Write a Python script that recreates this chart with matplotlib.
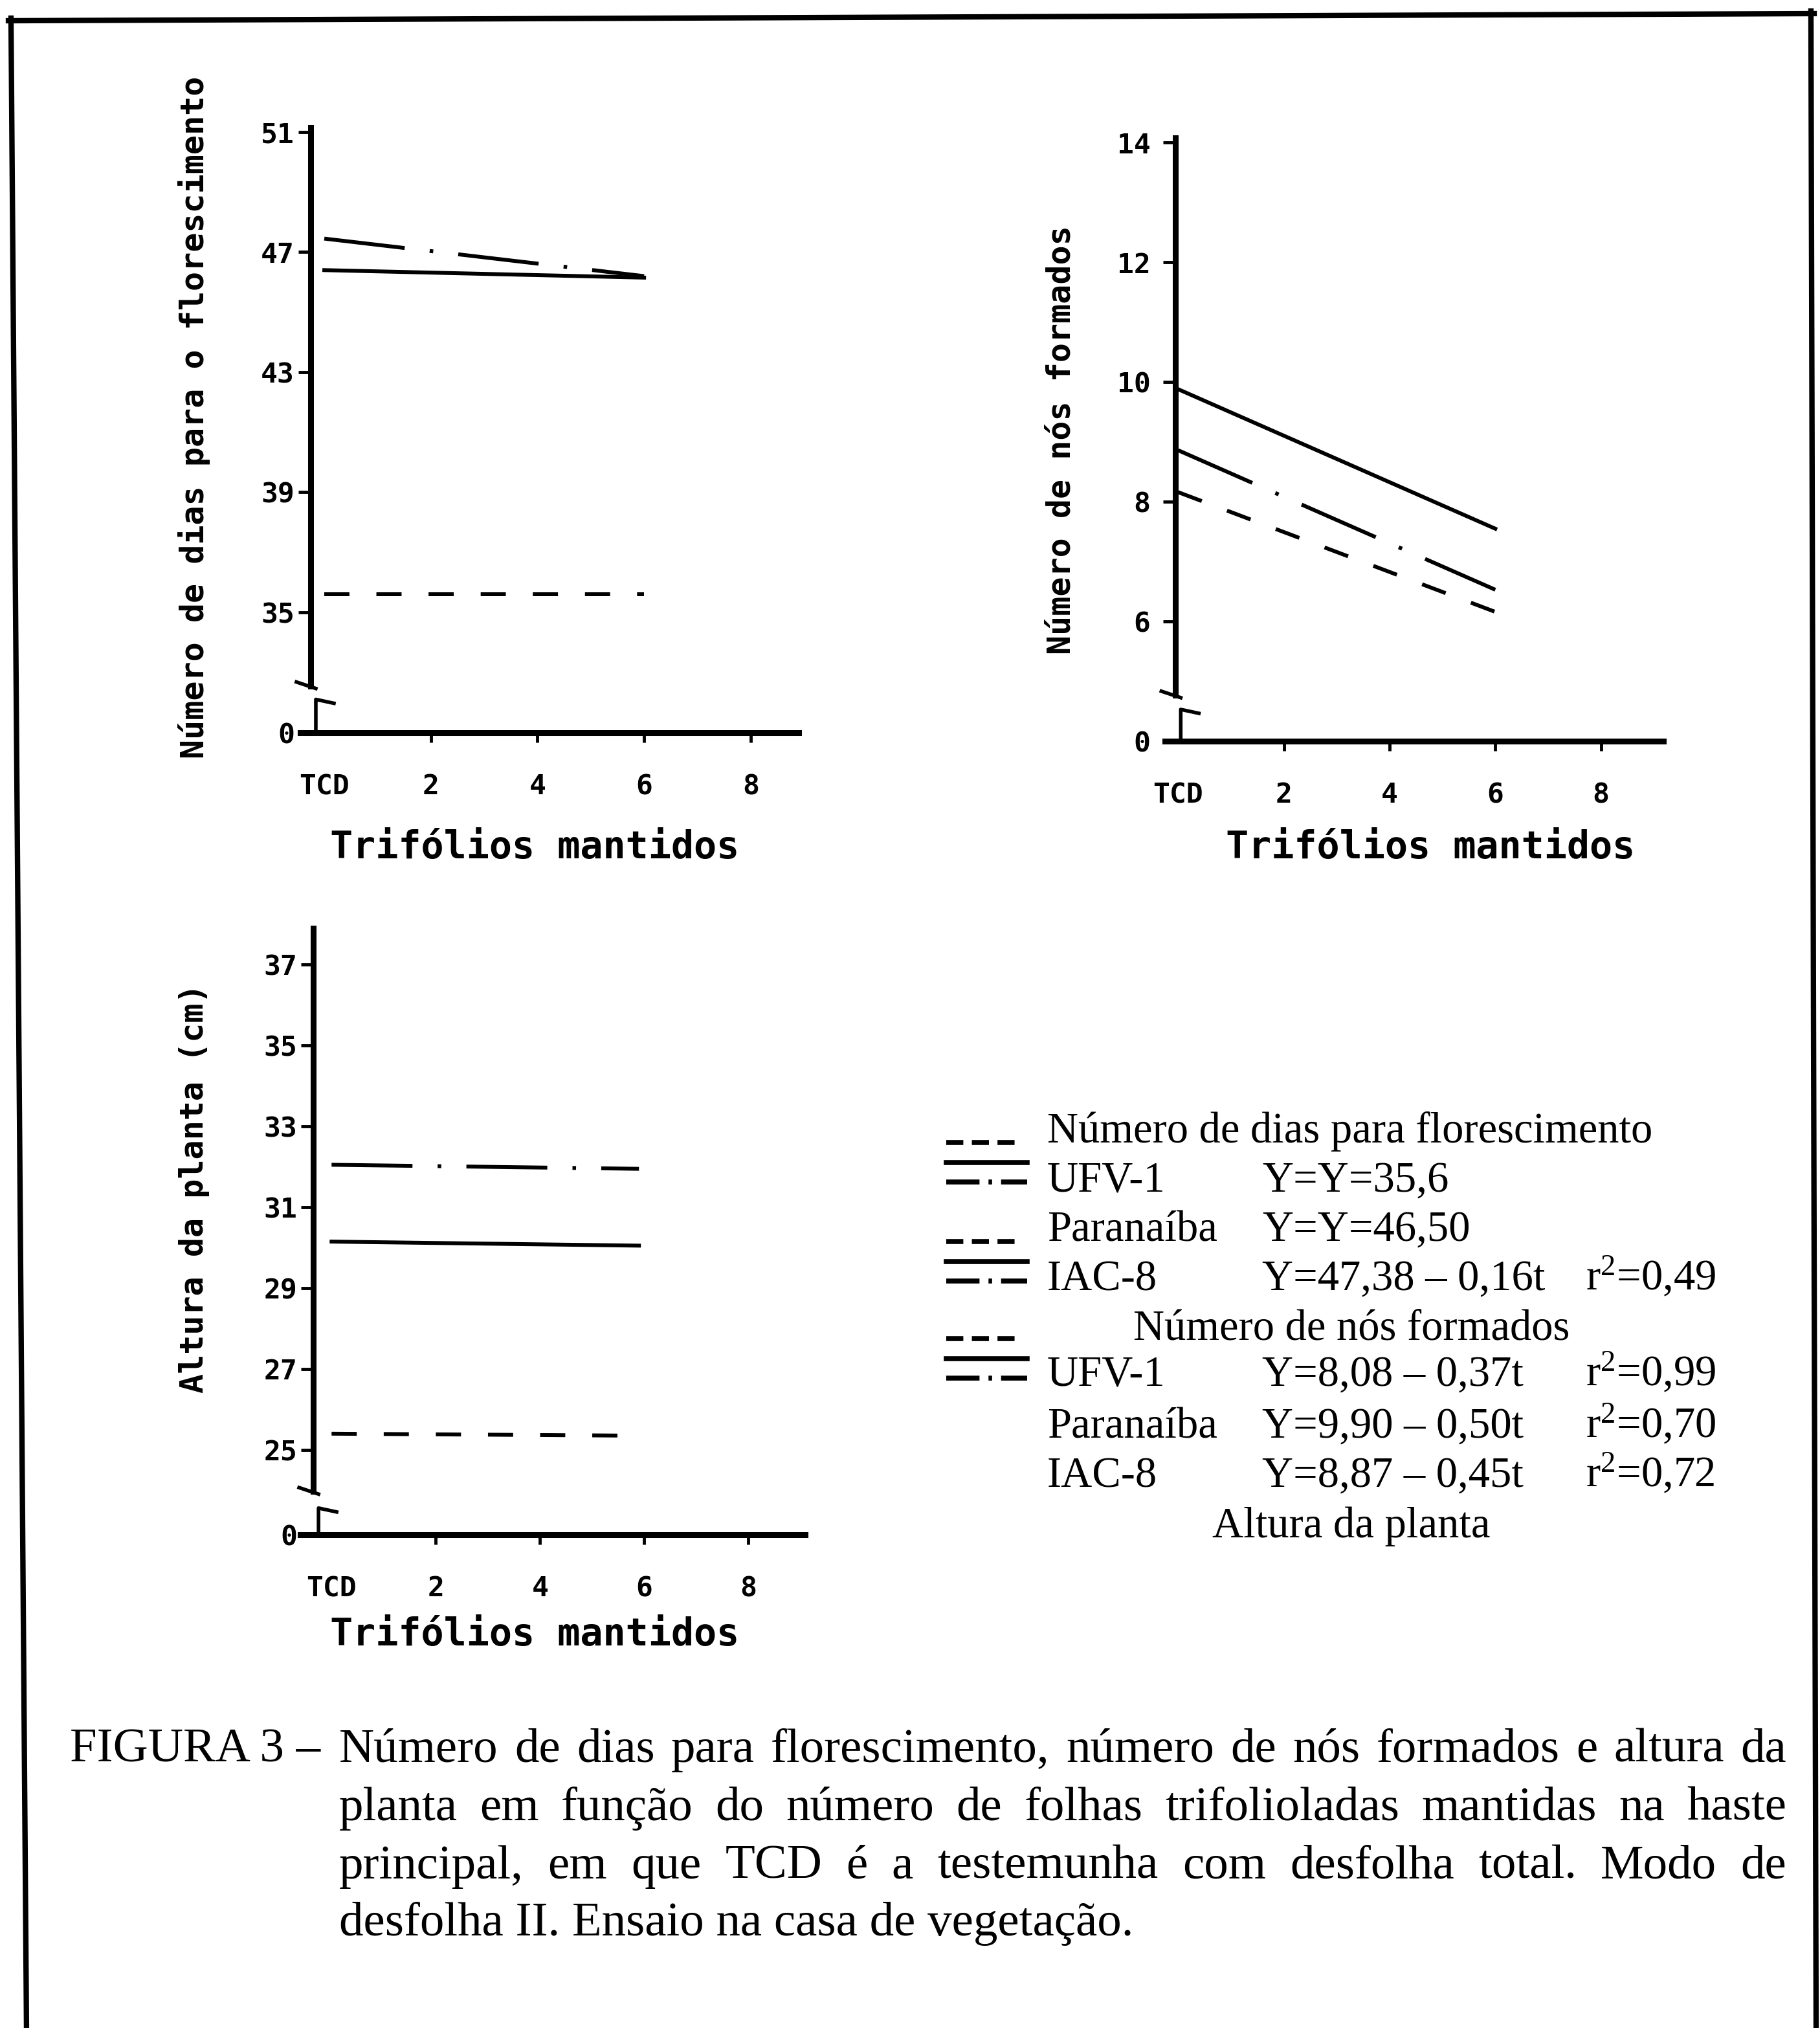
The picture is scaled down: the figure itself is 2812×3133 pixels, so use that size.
import matplotlib
matplotlib.use("Agg")
import matplotlib.pyplot as plt

W, H = 2812, 3133

plt.rcParams['font.family'] = 'DejaVu Sans Mono'
plt.rcParams['font.weight'] = 'bold'
plt.rcParams['axes.labelweight'] = 'bold'
plt.rcParams['lines.scale_dashes'] = False
plt.rcParams['mathtext.fontset'] = 'custom'
plt.rcParams['mathtext.rm'] = 'Liberation Serif'
plt.rcParams['mathtext.default'] = 'regular'

# eixo x: TCD = testemunha com desfolha total, depois trifolios mantidos
x_ticks = [0, 2, 4, 6, 8]
x_labels = ['TCD', '2', '4', '6', '8']
x_fit = [0, 6]
x_fit_alt = [0, 5.9]

# numero de dias para florescimento
dias_ufv1 = [35.6, 35.6]
dias_paranaiba = [46.4, 46.15]
dias_iac8 = [47.45, 46.2]
dias_yticks = [35, 39, 43, 47, 51]

# numero de nos formados
nos_ufv1 = [8.16, 6.16]
nos_paranaiba = [9.88, 7.55]
nos_iac8 = [8.86, 6.53]
nos_yticks = [6, 8, 10, 12, 14]

# altura da planta (cm)
alt_ufv1 = [25.4, 25.35]
alt_paranaiba = [30.15, 30.05]
alt_iac8 = [32.05, 31.95]
alt_yticks = [25, 27, 29, 31, 33, 35, 37]

LW = 4.3
DASHED = (0, (28, 30))
DASHDOT = (0, (90, 28, 4, 28))
SERIF = dict(family='Liberation Serif', weight='normal', color='black')

fig = plt.figure(figsize=(W / 100, H / 100), dpi=100)
fig.patch.set_facecolor('white')

# camada de fundo em pixels (moldura, legenda, legenda da figura)
lax = fig.add_axes([0, 0, 1, 1], zorder=-1)
lax.set_xlim(0, W)
lax.set_ylim(H, 0)
lax.axis('off')


def draw_break(ax, x, y_hi, y_lo, y_bot):
    to_px = ax.transData.transform
    to_data = ax.transData.inverted().transform

    def at(y, dx, dy):
        px, py = to_px((x, y))
        return to_data((px + dx, py + dy))

    a, b = at(y_hi, -22, 6), at(y_hi, 8, -4)
    ax.plot([a[0], b[0]], [a[1], b[1]], color='black', lw=4, clip_on=False)
    c, d, e = at(y_bot, 8, 0), at(y_lo, 8, 0), at(y_lo, 36, -6)
    ax.plot([c[0], d[0], e[0]], [c[1], d[1], e[1]], color='black', lw=4, clip_on=False)


def panel(rect, xlim, ylim, spine_x, yticks, brk, ylabel, ylab_xy, xlab_xy, ypad=4):
    l, r, t, b = rect
    ax = fig.add_axes([l / W, 1 - b / H, (r - l) / W, (b - t) / H])
    ax.set_facecolor('none')
    ax.set_xlim(xlim)
    ax.set_ylim(ylim)
    for s in ('top', 'right'):
        ax.spines[s].set_visible(False)
    for s in ('left', 'bottom'):
        ax.spines[s].set_linewidth(6.5)
    ax.spines['left'].set_position(('data', spine_x))
    ax.spines['left'].set_bounds(brk[0], ylim[1])
    ax.set_xticks(x_ticks, x_labels)
    ax.set_yticks([ylim[0]] + yticks, ['0'] + [str(v) for v in yticks])
    ax.tick_params(axis='x', length=11, width=3.5, pad=34, labelsize=31)
    ax.tick_params(axis='y', length=14, width=3.5, pad=ypad, labelsize=31)
    ax.xaxis.get_major_ticks()[0].tick1line.set_visible(False)
    ax.set_xlabel('Trifólios mantidos', fontsize=42, va='center')
    ax.xaxis.set_label_coords(*xlab_xy)
    ax.set_ylabel(ylabel, fontsize=36, va='center')
    ax.yaxis.set_label_coords(*ylab_xy)
    draw_break(ax, spine_x, brk[0], brk[1], ylim[0])
    return ax


ax1 = panel((464, 1234, 197, 1131.5), (-0.45, 8.9), (31, 51.15), -0.256, dias_yticks,
            (32.55, 32.1), 'Número de dias para o florescimento', (-0.213, 0.521), (0.470, -0.191))
ax2 = panel((1800, 2570, 213, 1145), (-0.25, 9.18), (4, 14.08), -0.05, nos_yticks,
            (4.77, 4.53), 'Número de nós formados', (-0.208, 0.499), (0.532, -0.177), ypad=14)
ax3 = panel((464, 1244, 1434, 2371), (-0.6, 9.09), (22.9, 37.9), -0.35, alt_yticks,
            (23.97, 23.56), 'Altura da planta (cm)', (-0.21, 0.571), (0.464, -0.165))

for ax, xs, ufv, par, iac in [(ax1, x_fit, dias_ufv1, dias_paranaiba, dias_iac8),
                              (ax2, x_fit, nos_ufv1, nos_paranaiba, nos_iac8),
                              (ax3, x_fit_alt, alt_ufv1, alt_paranaiba, alt_iac8)]:
    ax.plot(xs, ufv, color='black', lw=LW, ls=DASHED)
    ax.plot(xs, par, color='black', lw=LW, ls='-')
    ax.plot(xs, iac, color='black', lw=LW, ls=DASHDOT)

# moldura
for xs, ys in [([13, 2803], [32, 21]), ([17, 41], [28, 3140]), ([2798, 2806], [17, 3140])]:
    lax.plot(xs, ys, color='black', lw=6, solid_capstyle='projecting', clip_on=False)

# tamanhos de fonte a partir das larguras medidas
renderer = fig.canvas.get_renderer()


def width_of(s, size):
    t = lax.text(0, 0, s, fontsize=size, **SERIF)
    w = t.get_window_extent(renderer).width
    t.remove()
    return w


leg_size = 40 * 934 / width_of('Número de dias para florescimento', 40)
cap_size = 40 * 1226 / width_of('desfolha II. Ensaio na casa de vegetação.', 40)

# simbolos da legenda
for y0 in [1765, 1918, 2068]:
    lax.plot([1462, 1574], [y0, y0], color='black', lw=5.5, ls=(0, (19, 9.5)))
    lax.plot([1462, 1587], [y0 + 31, y0 + 31], color='black', lw=5.5)
    lax.plot([1462, 1587], [y0 + 61, y0 + 61], color='black', lw=5.5, ls=(0, (37, 10, 4, 10)))

legend_rows = [
    (1765, 'Número de dias para florescimento', None, None),
    (1841, 'UFV-1', 'Y=Y=35,6', None),
    (1917, 'Paranaíba', 'Y=Y=46,50', None),
    (1993, 'IAC-8', 'Y=47,38 – 0,16t', 'r$^2$=0,49'),
    (2069, 'Número de nós formados', None, None),
    (2141, 'UFV-1', 'Y=8,08 – 0,37t', 'r$^2$=0,99'),
    (2221, 'Paranaíba', 'Y=9,90 – 0,50t', 'r$^2$=0,70'),
    (2297, 'IAC-8', 'Y=8,87 – 0,45t', 'r$^2$=0,72'),
    (2375, 'Altura da planta', None, None),
]
for y, c1, c2, c3 in legend_rows:
    if c2 is None and c1 != legend_rows[0][1]:
        lax.text(2088, y, c1, fontsize=leg_size, ha='center', va='baseline', **SERIF)
        continue
    lax.text(1618, y, c1, fontsize=leg_size, ha='left', va='baseline', **SERIF)
    if c2:
        lax.text(1950, y, c2, fontsize=leg_size, ha='left', va='baseline', **SERIF)
    if c3:
        lax.text(2450, y, c3, fontsize=leg_size, ha='left', va='baseline', **SERIF)

# legenda da figura, justificada
caption_lines = [
    'Número de dias para florescimento, número de nós formados e altura da',
    'planta em função do número de folhas trifolioladas mantidas na haste',
    'principal, em que TCD é a testemunha com desfolha total. Modo de',
    'desfolha II. Ensaio na casa de vegetação.',
]
cap_left, cap_right = 524, 2760
cap_base = [2722, 2812, 2902, 2990]

lax.text(108, cap_base[0], 'FIGURA 3 –', fontsize=cap_size, ha='left', va='baseline', **SERIF)
for i, (line, yb) in enumerate(zip(caption_lines, cap_base)):
    if i == len(caption_lines) - 1:
        lax.text(cap_left, yb, line, fontsize=cap_size, ha='left', va='baseline', **SERIF)
        continue
    words = line.split(' ')
    widths = [width_of(w, cap_size) for w in words]
    gap = (cap_right - cap_left - sum(widths)) / (len(words) - 1)
    x = cap_left
    for w, wd in zip(words, widths):
        lax.text(x, yb, w, fontsize=cap_size, ha='left', va='baseline', **SERIF)
        x += wd + gap

fig.savefig('out.png', dpi=100)
